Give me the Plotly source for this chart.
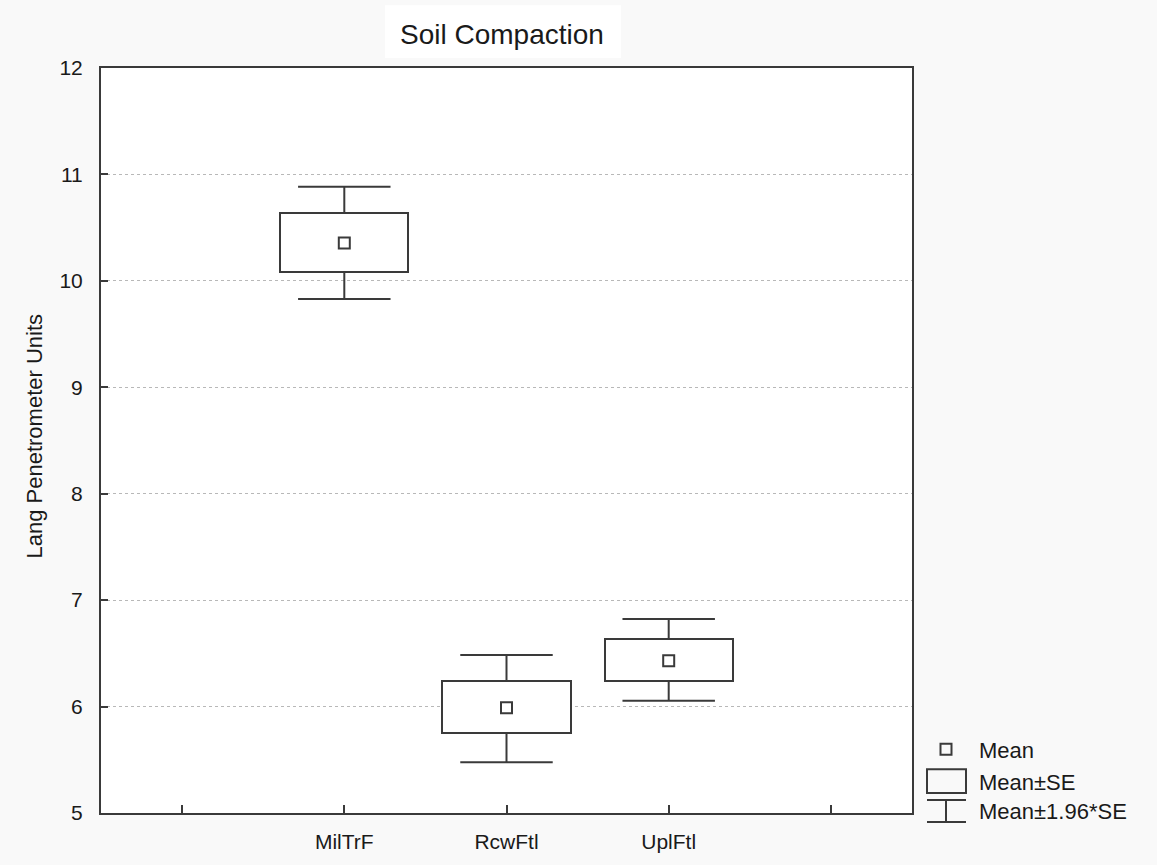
import plotly.graph_objects as go

# ---- data ----
categories = ["MilTrF", "RcwFtl", "UplFtl"]
cat_pos = [0, 1, 2]
means = [10.355, 5.99, 6.43]
se_low = [10.085, 5.752, 6.245]
se_high = [10.635, 6.245, 6.638]
ci_low = [9.83, 5.477, 6.055]
ci_high = [10.884, 6.485, 6.822]

x_tick_vals = [-1, 0, 1, 2, 3]
x_tick_text = ["", "MilTrF", "RcwFtl", "UplFtl", ""]
y_tick_vals = [5, 6, 7, 8, 9, 10, 11, 12]

title_text = "Soil Compaction"
y_title = "Lang Penetrometer Units"
legend_labels = ["Mean", "Mean\u00b1SE", "Mean\u00b11.96*SE"]

# ---- style ----
FONT = "Liberation Sans, Arial, sans-serif"
INK = "#3a3a3a"
TXT = "#1a1a1a"
BOX_W = 0.79
CAP_HALF = 0.285

fig = go.Figure()

# Mean ± SE boxes
fig.add_trace(go.Bar(
    x=cat_pos,
    y=[h - l for h, l in zip(se_high, se_low)],
    base=se_low,
    width=BOX_W,
    marker=dict(color="white", line=dict(color=INK, width=2)),
    hoverinfo="skip",
    showlegend=False,
))

# Mean ± 1.96*SE whiskers with caps
wx, wy = [], []
for xc, sl, sh, cl, ch in zip(cat_pos, se_low, se_high, ci_low, ci_high):
    wx += [xc, xc, None, xc - CAP_HALF, xc + CAP_HALF, None,
           xc, xc, None, xc - CAP_HALF, xc + CAP_HALF, None]
    wy += [sh, ch, None, ch, ch, None,
           sl, cl, None, cl, cl, None]
fig.add_trace(go.Scatter(
    x=wx, y=wy, mode="lines",
    line=dict(color=INK, width=2),
    hoverinfo="skip", showlegend=False,
))

# Means
fig.add_trace(go.Scatter(
    x=cat_pos,
    y=means,
    mode="markers",
    marker=dict(symbol="square-open", size=11, color=INK, line=dict(width=2, color=INK)),
    hoverinfo="skip",
    showlegend=False,
))

L, R, T, B = 101, 245, 68, 49
W, H = 1157, 865
pw, ph = W - L - R, H - T - B


def px(xp):
    return (xp - L) / pw


def py(yp):
    return (H - B - yp) / ph


shapes = []
# title box
shapes.append(dict(type="rect", xref="paper", yref="paper",
                   x0=px(385), x1=px(621), y0=py(58), y1=py(5),
                   fillcolor="white", line=dict(width=0), layer="below"))
# legend: mean square
shapes.append(dict(type="rect", xref="paper", yref="paper",
                   x0=px(940.5), x1=px(951.5), y0=py(757.5), y1=py(746.5),
                   line=dict(color=INK, width=2), fillcolor="rgba(0,0,0,0)"))
# legend: SE box
shapes.append(dict(type="rect", xref="paper", yref="paper",
                   x0=px(927), x1=px(966), y0=py(796), y1=py(772),
                   line=dict(color=INK, width=2), fillcolor="rgba(0,0,0,0)"))
# legend: whisker symbol
for yy in (803, 825):
    shapes.append(dict(type="line", xref="paper", yref="paper",
                       x0=px(927), x1=px(966), y0=py(yy), y1=py(yy),
                       line=dict(color=INK, width=2)))
shapes.append(dict(type="line", xref="paper", yref="paper",
                   x0=px(946), x1=px(946), y0=py(803), y1=py(825),
                   line=dict(color=INK, width=2)))

annotations = [
    dict(text=title_text, xref="paper", yref="paper", x=px(502), y=py(34),
         xanchor="center", yanchor="middle", showarrow=False,
         font=dict(family=FONT, size=28, color=TXT)),
    dict(text=y_title, xref="paper", yref="paper", x=px(35), y=py(438),
         xanchor="center", yanchor="middle", textangle=-90, showarrow=False,
         font=dict(family=FONT, size=22, color=TXT)),
]
for lab, yy in zip(legend_labels, [753, 785, 814]):
    annotations.append(dict(text=lab, xref="paper", yref="paper", x=px(977), y=py(yy),
                            xanchor="left", yanchor="middle", showarrow=False,
                            font=dict(family=FONT, size=22, color=TXT)))

fig.update_layout(
    width=W, height=H,
    margin=dict(l=L, r=R, t=T, b=B, pad=0),
    paper_bgcolor="#f9f9f9",
    plot_bgcolor="white",
    font=dict(family=FONT, size=21, color=TXT),
    shapes=shapes,
    annotations=annotations,
    showlegend=False,
    bargap=0,
    xaxis=dict(
        range=[-1.5, 3.5], tickmode="array", tickvals=x_tick_vals, ticktext=x_tick_text,
        ticks="inside", ticklen=8, tickwidth=2, tickcolor=INK,
        showgrid=False, zeroline=False,
        showline=True, linecolor=INK, linewidth=2, mirror=True,
        ticklabelstandoff=9,
        tickfont=dict(family=FONT, size=21, color=TXT),
    ),
    yaxis=dict(
        range=[5, 12], tickmode="array", tickvals=y_tick_vals,
        ticks="inside", ticklen=7, tickwidth=2, tickcolor=INK,
        showgrid=True, gridcolor="#b8b8b8", griddash="dot", gridwidth=1,
        zeroline=False,
        showline=True, linecolor=INK, linewidth=2, mirror=True,
        ticklabelstandoff=12,
        tickfont=dict(family=FONT, size=21, color=TXT),
    ),
)

fig.write_html("out.html")
